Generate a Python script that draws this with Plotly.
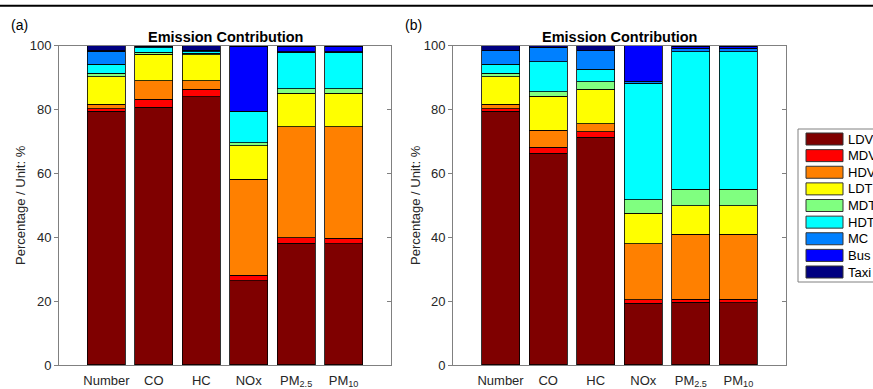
import plotly.graph_objects as go

categories = ["Number", "CO", "HC", "NOx", "PM<sub>2.5</sub>", "PM<sub>10</sub>"]
cat_pos = [1, 2, 3, 4, 5, 6]
series_names = ["LDV", "MDV", "HDV", "LDT", "MDT", "HDT", "MC", "Bus", "Taxi"]
series_colors = ["#7f0000", "#ff0000", "#ff8000", "#ffff00", "#80ff80",
                 "#00ffff", "#0080ff", "#0000ff", "#000080"]
y_ticks = [0, 20, 40, 60, 80, 100]

# Panel (a)
ldv_a = [79.5, 80.8, 84.0, 26.4, 38.2, 38.0]
mdv_a = [0.8, 2.4, 2.3, 1.7, 1.6, 1.7]
hdv_a = [1.4, 5.8, 2.7, 30.1, 34.8, 34.9]
ldt_a = [8.6, 8.4, 8.1, 10.4, 10.5, 10.5]
mdt_a = [1.1, 0.5, 0.5, 1.0, 1.4, 1.4]
hdt_a = [2.8, 1.5, 0.5, 9.7, 11.4, 11.4]
mc_a = [4.1, 0.3, 0.4, 0.1, 0.2, 0.2]
bus_a = [0.1, 0.1, 0.0, 20.5, 1.8, 1.8]
taxi_a = [1.6, 0.2, 1.5, 0.1, 0.1, 0.1]

# Panel (b)
ldv_b = [79.5, 66.3, 71.3, 19.3, 19.6, 19.5]
mdv_b = [0.8, 1.9, 1.8, 1.1, 1.0, 1.1]
hdv_b = [1.4, 5.4, 2.4, 17.5, 20.3, 20.3]
ldt_b = [8.6, 10.6, 10.8, 9.6, 9.0, 9.0]
mdt_b = [1.1, 1.4, 2.4, 4.2, 5.1, 5.1]
hdt_b = [2.8, 9.4, 3.9, 36.5, 43.1, 43.1]
mc_b = [4.2, 4.5, 5.8, 0.7, 1.1, 1.1]
bus_b = [0.0, 0.0, 0.0, 11.1, 0.6, 0.6]
taxi_b = [1.6, 0.5, 1.6, 0.0, 0.2, 0.2]

panel_a = [ldv_a, mdv_a, hdv_a, ldt_a, mdt_a, hdt_a, mc_a, bus_a, taxi_a]
panel_b = [ldv_b, mdv_b, hdv_b, ldt_b, mdt_b, hdt_b, mc_b, bus_b, taxi_b]

W, H = 873, 389
FONT = "Liberation Sans, Arial, Helvetica, sans-serif"
TXT = "#262626"
AX = "#808080"

fig = go.Figure()
for panel, xa, ya in [(panel_a, "x", "y"), (panel_b, "x2", "y2")]:
    for name, color, vals in zip(series_names, series_colors, panel):
        fig.add_trace(go.Bar(
            x=cat_pos, y=vals, name=name, width=0.8,
            marker=dict(color=color, line=dict(color="black", width=0.8)),
            xaxis=xa, yaxis=ya, showlegend=False))
# invisible traces for the right-side inner tick axes
fig.add_trace(go.Scatter(x=[], y=[], xaxis="x", yaxis="y3", showlegend=False))
fig.add_trace(go.Scatter(x=[], y=[], xaxis="x2", yaxis="y4", showlegend=False))

x_dom_a = [59 / W, 391 / W]
x_dom_b = [453 / W, 786 / W]
y_dom = [(H - 365) / H, (H - 45.7) / H]

xcommon = dict(range=[0, 7], tickmode="array", tickvals=cat_pos, ticktext=categories,
               showline=True, linecolor=AX, linewidth=1, mirror=True, showgrid=False,
               zeroline=False, ticks="outside", ticklen=3, tickcolor="rgba(0,0,0,0)",
               tickfont=dict(family=FONT, size=13, color=TXT))
ycommon = dict(range=[0, 100], tickmode="array", tickvals=y_ticks,
               showline=True, linecolor=AX, linewidth=1, mirror=True, showgrid=False,
               zeroline=False, ticks="outside", ticklen=4, tickcolor=AX,
               tickfont=dict(family=FONT, size=13, color=TXT), domain=y_dom)
yright = dict(range=[0, 100], tickmode="array", tickvals=y_ticks, side="right",
              showline=False, showgrid=False, zeroline=False, ticks="inside",
              ticklen=4, tickcolor=AX, showticklabels=False)

fig.update_layout(
    width=W, height=H,
    margin=dict(l=0, r=0, t=0, b=0, autoexpand=False),
    paper_bgcolor="white", plot_bgcolor="white",
    barmode="stack",
    xaxis=dict(domain=x_dom_a, anchor="y", **xcommon),
    xaxis2=dict(domain=x_dom_b, anchor="y2", **xcommon),
    yaxis=dict(anchor="x", **ycommon),
    yaxis2=dict(anchor="x2", **ycommon),
    yaxis3=dict(anchor="x", overlaying="y", **yright),
    yaxis4=dict(anchor="x2", overlaying="y2", **yright),
    font=dict(family=FONT, color=TXT),
)

shapes = []
annotations = []
# top rule
shapes.append(dict(type="line", xref="paper", yref="paper", x0=0, x1=1,
                   y0=(H - 5.7) / H, y1=(H - 5.7) / H, line=dict(color="black", width=2)))

for dom, lab, lab_x, ytitle_x in [(x_dom_a, "(a)", 19, 20), (x_dom_b, "(b)", 413, 415)]:
    annotations.append(dict(text="<b>Emission Contribution</b>", xref="paper", yref="paper",
                            x=(dom[0] + dom[1]) / 2, y=(H - 37) / H, showarrow=False,
                            xanchor="center", yanchor="middle",
                            font=dict(family=FONT, size=14.5, color="black")))
    annotations.append(dict(text=lab, xref="paper", yref="paper", x=lab_x / W, y=(H - 25) / H,
                            showarrow=False, xanchor="center", yanchor="middle",
                            font=dict(family=FONT, size=14, color="black")))
    annotations.append(dict(text="Percentage / Unit: %", xref="paper", yref="paper",
                            x=ytitle_x / W, y=(H - 205) / H, showarrow=False, textangle=-90,
                            xanchor="center", yanchor="middle",
                            font=dict(family=FONT, size=13, color=TXT)))

# custom legend box
leg_left, leg_top, leg_bottom = 798, 129, 282
shapes.append(dict(type="rect", xref="paper", yref="paper",
                   x0=leg_left / W, x1=(W + 10) / W, y0=(H - leg_bottom) / H, y1=(H - leg_top) / H,
                   line=dict(color=AX, width=1), fillcolor="white"))
step = (272 - 139) / (len(series_names) - 1)
for i, (name, color) in enumerate(zip(series_names, series_colors)):
    yc = 139 + i * step
    shapes.append(dict(type="rect", xref="paper", yref="paper",
                       x0=806 / W, x1=843 / W, y0=(H - yc - 6) / H, y1=(H - yc + 6) / H,
                       line=dict(color="#333333", width=1), fillcolor=color))
    annotations.append(dict(text=name, xref="paper", yref="paper", x=846 / W, y=(H - yc) / H,
                            showarrow=False, xanchor="left", yanchor="middle",
                            font=dict(family=FONT, size=13, color="black")))

fig.update_layout(shapes=shapes, annotations=annotations)
fig.write_html("out.html")
